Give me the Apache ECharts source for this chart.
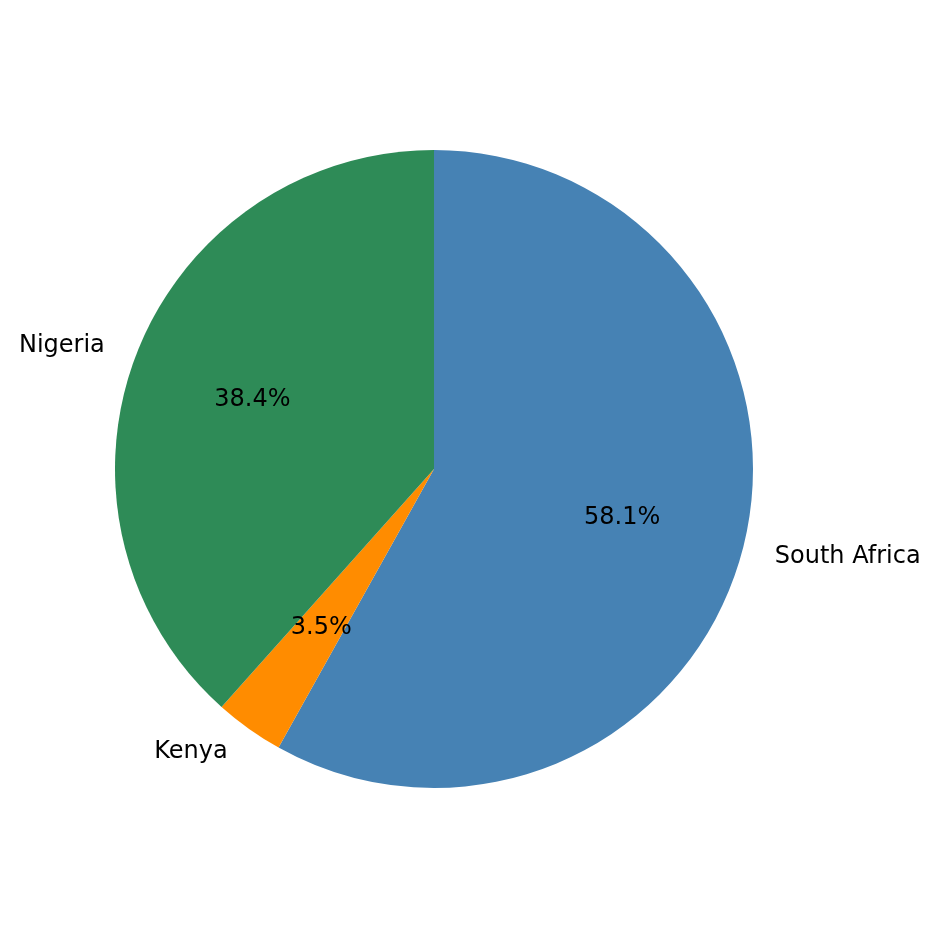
<!DOCTYPE html>
<html>
<head>
<meta charset="utf-8">
<script src="https://cdn.jsdelivr.net/npm/echarts@6/dist/echarts.min.js"></script>
<style>
html, body { margin: 0; padding: 0; background: #fff; }
#chart { width: 940px; height: 940px; }
</style>
</head>
<body>
<div id="chart"></div>
<script>
const countries = ['South Africa', 'Kenya', 'Nigeria'];
const shares = [58.1, 3.5, 38.4];
const colors = ['#4682B4', '#FF8C00', '#2E8B57'];

const R = 319;
const font = 'DejaVu Sans';

const pieData = countries.map((name, i) => ({
  name: name,
  value: shares[i],
  itemStyle: { color: colors[i] }
}));

const chart = echarts.init(document.getElementById('chart'));
chart.setOption({
  backgroundColor: '#fff',
  animation: false,
  series: [
    {
      type: 'pie',
      center: [434, 469],
      radius: [0, R],
      startAngle: 90,
      clockwise: true,
      avoidLabelOverlap: false,
      silent: true,
      data: pieData,
      label: {
        show: true,
        position: 'outside',
        formatter: '{b}',
        color: '#000',
        fontFamily: font,
        fontSize: 24
      },
      labelLine: { show: false, length: 28, length2: 0 }
    },
    {
      // transparent ring used only to place the percentage labels at 0.6r
      type: 'pie',
      center: [434, 469],
      radius: [R * 0.2, R],
      startAngle: 90,
      clockwise: true,
      silent: true,
      data: countries.map((name, i) => ({
        name: name,
        value: shares[i],
        itemStyle: { color: 'rgba(0,0,0,0)' }
      })),
      label: {
        show: true,
        position: 'inside',
        formatter: p => p.value.toFixed(1) + '%',
        color: '#000',
        fontFamily: font,
        fontSize: 24
      },
      labelLine: { show: false }
    }
  ]
});
</script>
</body>
</html>
